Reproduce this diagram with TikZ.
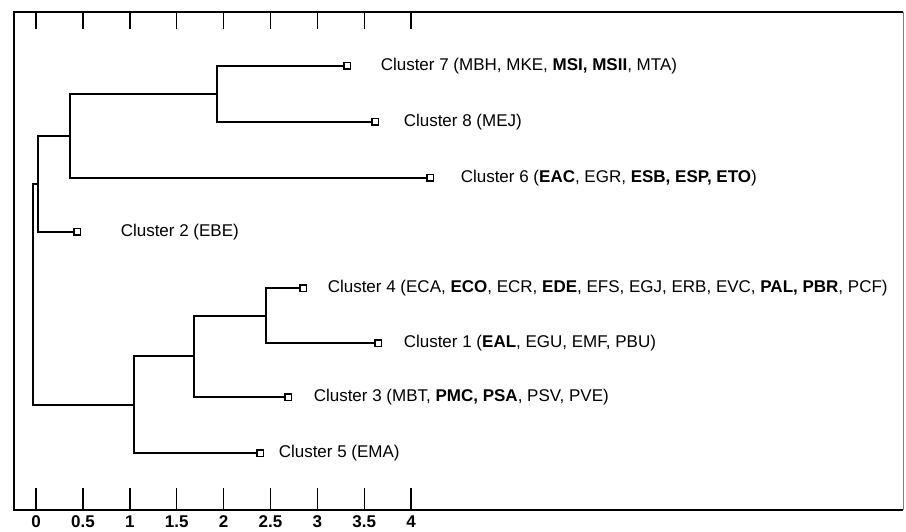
\documentclass[tikz,border=0pt]{standalone}
\usepackage{fontspec}
\setmainfont{Liberation Sans}
\usetikzlibrary{positioning}

\begin{document}
\begin{tikzpicture}[x=1pt, y=-1pt, line width=1.5pt,
    leaf/.style={draw, fill=white, rectangle, minimum size=5pt, inner sep=0pt, line width=1.2pt},
    lab/.style={anchor=west, inner sep=0pt, font=\fontsize{17}{20}\selectfont},
    ticklab/.style={inner sep=0pt, font=\fontsize{17}{20}\selectfont\bfseries}]
    \def\u{46.9}
    \useasboundingbox (0,0) rectangle (906,532);
    % frame and scale
    \draw[line width=2pt] (903,12) -- (14,12) -- (14,510) -- (903,510);
    \draw[line width=0.8pt, gray] (903,12) -- (903,510);
    \foreach \k in {0,...,8} {
        \draw ({36+\u*\k},12) -- ({36+\u*\k},29);
        \draw ({36+\u*\k},488) -- ({36+\u*\k},510);
    }
    \foreach \v [count=\k from 0] in {0,0.5,1,1.5,2,2.5,3,3.5,4}
        \node[ticklab] (t\k) at ({36+\u*\k},522) {\v};
    % joins of the tree
    \coordinate (root)  at (33,294);
    \coordinate (j2678) at (38,184);
    \coordinate (j678)  at (70,136);
    \coordinate (j78)   at (217,94);
    \coordinate (j4135) at (134,405);
    \coordinate (j413)  at (194,356);
    \coordinate (j41)   at (266,316);
    % leaves
    \node[leaf] (c7) at (347,66) {};
    \node[leaf] (c8) at (375,122) {};
    \node[leaf] (c6) at (430,178) {};
    \node[leaf] (c2) at (77,232) {};
    \node[leaf] (c4) at (303,288) {};
    \node[leaf] (c1) at (378,343) {};
    \node[leaf] (c3) at (288,397) {};
    \node[leaf] (c5) at (260,453) {};
    % branches
    \draw (root) |- (j2678);
    \draw (root) |- (j4135);
    \draw (j2678) |- (j678);
    \draw (j2678) |- (c2);
    \draw (j678) |- (j78);
    \draw (j678) |- (c6);
    \draw (j78) |- (c7);
    \draw (j78) |- (c8);
    \draw (j4135) |- (j413);
    \draw (j4135) |- (c5);
    \draw (j413) |- (j41);
    \draw (j413) |- (c3);
    \draw (j41) |- (c4);
    \draw (j41) |- (c1);
    % redraw the leaf boxes on top
    \foreach \c in {c1,c2,c3,c4,c5,c6,c7,c8}
        \draw[line width=1.2pt, fill=white] (\c.south west) rectangle (\c.north east);
    % cluster names
    \node[lab] (l7) at (380,66)  {Cluster 7 (MBH, MKE, \textbf{MSI, MSII}, MTA)};
    \node[lab] (l8) at (403,122) {Cluster 8 (MEJ)};
    \node[lab] (l6) at (460,178) {Cluster 6 (\textbf{EAC}, EGR, \textbf{ESB, ESP, ETO})};
    \node[lab] (l2) at (120,232) {Cluster 2 (EBE)};
    \node[lab] (l4) at (327,288) {Cluster 4 (ECA, \textbf{ECO}, ECR, \textbf{EDE}, EFS, EGJ, ERB, EVC, \textbf{PAL, PBR}, PCF)};
    \node[lab] (l1) at (403,343) {Cluster 1 (\textbf{EAL}, EGU, EMF, PBU)};
    \node[lab] (l3) at (313,397) {Cluster 3 (MBT, \textbf{PMC, PSA}, PSV, PVE)};
    \node[lab] (l5) at (278,453) {Cluster 5 (EMA)};
\end{tikzpicture}
\end{document}
